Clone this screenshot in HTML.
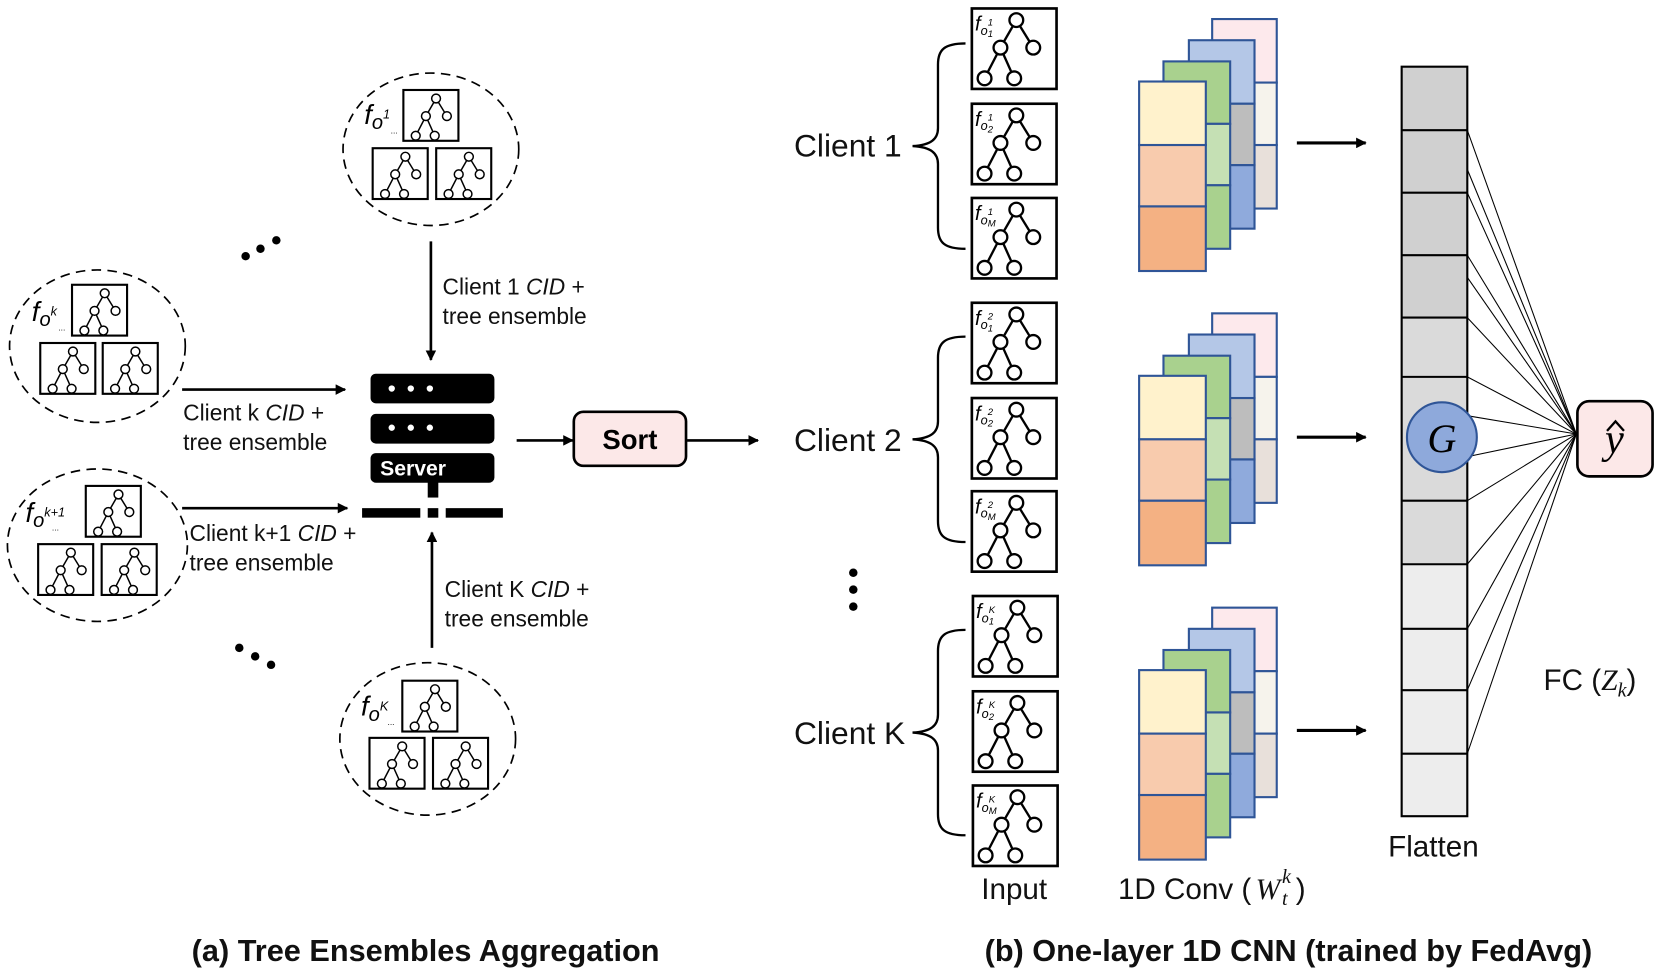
<!DOCTYPE html>
<html><head><meta charset="utf-8"><style>
html,body{margin:0;padding:0;background:#fff;}
svg{display:block;}
text{font-family:"Liberation Sans","Noto Sans CJK SC",sans-serif;}
.m{font-family:"Liberation Serif","DejaVu Serif",serif;font-style:italic;}
</style></head><body>
<svg width="1660" height="975" viewBox="0 0 1568 921" xmlns="http://www.w3.org/2000/svg">
<defs>
<g id="tree" fill="#fff" stroke="#000" stroke-width="2.2">
<line x1="42" y1="11" x2="27" y2="37"/><line x1="42" y1="11" x2="58" y2="37"/>
<line x1="27" y1="37" x2="12" y2="66"/><line x1="27" y1="37" x2="40" y2="66"/>
<circle cx="42" cy="11" r="6.5"/><circle cx="27" cy="37" r="6.5"/><circle cx="58" cy="37" r="6.5"/>
<circle cx="12" cy="66" r="6.5"/><circle cx="40" cy="66" r="6.5"/>
</g>
<g id="ibox"><rect x="0" y="0" width="80" height="76" fill="#fff" stroke="#000" stroke-width="2.5"/><use href="#tree" x="0" y="0"/></g>
<g id="sbox"><rect x="0" y="0" width="52" height="48" fill="#fff" stroke="#000" stroke-width="2"/><g transform="translate(4,1) scale(0.64,0.64)"><use href="#tree"/></g></g>
<g id="stack" stroke="#2F5597" stroke-width="2">
<rect x="1145" y="18" width="61" height="60" fill="#FDE9EC"/>
<rect x="1145" y="78" width="61" height="59" fill="#F6F3EC"/>
<rect x="1145" y="137" width="61" height="60" fill="#E8E0DA"/>
<rect x="1123" y="38" width="62" height="60" fill="#B4C7E7"/>
<rect x="1123" y="98" width="62" height="58" fill="#BDBDBD"/>
<rect x="1123" y="156" width="62" height="60" fill="#8FAADC"/>
<rect x="1099" y="58" width="63" height="59" fill="#A9D18E"/>
<rect x="1099" y="117" width="63" height="58" fill="#C5E0B4"/>
<rect x="1099" y="175" width="63" height="60" fill="#A9D18E"/>
<rect x="1076" y="77" width="63" height="60" fill="#FFF2CC"/>
<rect x="1076" y="137" width="63" height="58" fill="#F8CBAD"/>
<rect x="1076" y="195" width="63" height="61" fill="#F4B183"/>
</g>
<marker id="ah" markerWidth="10" markerHeight="10" refX="9" refY="5" orient="auto" markerUnits="userSpaceOnUse"><path d="M0,0 L10,5 L0,10 z" fill="#000"/></marker>
<path id="brace" d="M50,0 C30,0 24,6 24,20 L24,80 C24,90 18,96 0,97 C18,98 24,104 24,114 L24,174 C24,188 30,194 50,194" fill="none" stroke="#000" stroke-width="2.2"/>
</defs>

<g fill="none" stroke="#000" stroke-width="1.6" stroke-dasharray="9,6">
<ellipse cx="407" cy="141" rx="83" ry="72"/>
<ellipse cx="92" cy="327" rx="83" ry="72"/>
<ellipse cx="92" cy="515" rx="85" ry="72"/>
<ellipse cx="404" cy="698" rx="83" ry="72"/>
</g>
<use href="#sbox" x="381" y="85"/><use href="#sbox" x="352" y="140"/><use href="#sbox" x="412" y="140"/>
<use href="#sbox" x="68" y="269"/><use href="#sbox" x="38" y="324"/><use href="#sbox" x="97" y="324"/>
<use href="#sbox" x="81" y="459"/><use href="#sbox" x="36" y="514"/><use href="#sbox" x="96" y="514"/>
<use href="#sbox" x="380" y="643"/><use href="#sbox" x="349" y="697"/><use href="#sbox" x="409" y="697"/>
<g class="m" font-size="26">
<text x="344" y="117">f<tspan font-size="19" dy="5">o</tspan><tspan font-size="12" dy="-10">1</tspan></text>
<text x="30" y="303">f<tspan font-size="19" dy="5">o</tspan><tspan font-size="12" dy="-10">k</tspan></text>
<text x="24" y="493">f<tspan font-size="19" dy="5">o</tspan><tspan font-size="12" dy="-10">k+1</tspan></text>
<text x="341" y="676">f<tspan font-size="19" dy="5">o</tspan><tspan font-size="12" dy="-10">K</tspan></text>
</g>
<g font-size="8"><text x="369" y="126">...</text><text x="55" y="312">...</text><text x="49" y="501">...</text><text x="366" y="685">...</text></g>

<g fill="#000"><circle cx="232" cy="242" r="4"/><circle cx="246" cy="235" r="4"/><circle cx="261" cy="227" r="4"/>
<circle cx="226" cy="612" r="4"/><circle cx="241" cy="620" r="4"/><circle cx="256" cy="628" r="4"/></g>

<g stroke="#000" stroke-width="2.5" marker-end="url(#ah)">
<line x1="407" y1="228" x2="407" y2="340"/>
<line x1="172" y1="368" x2="326" y2="368"/>
<line x1="172" y1="480" x2="328" y2="480"/>
<line x1="408" y1="612" x2="408" y2="503"/>
<line x1="488" y1="416" x2="541" y2="416"/>
<line x1="649" y1="416" x2="716" y2="416"/>
</g>
<g font-size="21.5" fill="#111">
<text x="418" y="278">Client 1 <tspan font-style="italic">CID</tspan> +</text><text x="418" y="306">tree ensemble</text>
<text x="173" y="397">Client k <tspan font-style="italic">CID</tspan> +</text><text x="173" y="425">tree ensemble</text>
<text x="179" y="511">Client k+1 <tspan font-style="italic">CID</tspan> +</text><text x="179" y="539">tree ensemble</text>
<text x="420" y="564">Client K <tspan font-style="italic">CID</tspan> +</text><text x="420" y="592">tree ensemble</text>
</g>

<g fill="#000">
<rect x="350" y="353" width="117" height="28" rx="5"/>
<rect x="350" y="391" width="117" height="28" rx="5"/>
<rect x="350" y="428" width="117" height="28" rx="5"/>
<rect x="404" y="455" width="10" height="15"/>
<rect x="342" y="480" width="55" height="9"/><rect x="404" y="480" width="10" height="9"/><rect x="421" y="480" width="54" height="9"/>
</g>
<g fill="#fff"><circle cx="370" cy="367" r="3"/><circle cx="388" cy="367" r="3"/><circle cx="406" cy="367" r="3"/>
<circle cx="370" cy="404" r="3"/><circle cx="388" cy="404" r="3"/><circle cx="406" cy="404" r="3"/></g>
<text x="359" y="449" font-size="20" font-weight="bold" fill="#fff">Server</text>
<rect x="542" y="389" width="106" height="51" rx="9" fill="#FCE8E8" stroke="#000" stroke-width="2.5"/>
<text x="595" y="424" font-size="26" font-weight="bold" text-anchor="middle">Sort</text>

<g font-size="30" fill="#111">
<text x="750" y="148">Client 1</text><text x="750" y="426">Client 2</text><text x="750" y="703">Client K</text>
</g>
<use href="#brace" x="862" y="41"/><use href="#brace" x="862" y="318"/><use href="#brace" x="862" y="595"/>
<g fill="#000"><circle cx="806" cy="541" r="4"/><circle cx="806" cy="557" r="4"/><circle cx="806" cy="573" r="4"/></g>

<use href="#ibox" x="918" y="8"/><use href="#ibox" x="918" y="98"/><use href="#ibox" x="918" y="187"/>
<use href="#ibox" x="918" y="286"/><use href="#ibox" x="918" y="376"/><use href="#ibox" x="918" y="464"/>
<use href="#ibox" x="919" y="563"/><use href="#ibox" x="919" y="653"/><use href="#ibox" x="919" y="742"/>
<g class="m" font-size="19">
<text x="921" y="29">f<tspan font-size="12" dy="4">o</tspan><tspan font-size="9" dy="-9">1</tspan><tspan font-size="9" dx="-5" dy="11">1</tspan></text>
<text x="921" y="119">f<tspan font-size="12" dy="4">o</tspan><tspan font-size="9" dy="-9">1</tspan><tspan font-size="9" dx="-5" dy="11">2</tspan></text>
<text x="921" y="208">f<tspan font-size="12" dy="4">o</tspan><tspan font-size="9" dy="-9">1</tspan><tspan font-size="9" dx="-5" dy="11">M</tspan></text>
<text x="921" y="307">f<tspan font-size="12" dy="4">o</tspan><tspan font-size="9" dy="-9">2</tspan><tspan font-size="9" dx="-5" dy="11">1</tspan></text>
<text x="921" y="397">f<tspan font-size="12" dy="4">o</tspan><tspan font-size="9" dy="-9">2</tspan><tspan font-size="9" dx="-5" dy="11">2</tspan></text>
<text x="921" y="485">f<tspan font-size="12" dy="4">o</tspan><tspan font-size="9" dy="-9">2</tspan><tspan font-size="9" dx="-5" dy="11">M</tspan></text>
<text x="922" y="584">f<tspan font-size="12" dy="4">o</tspan><tspan font-size="9" dy="-9">K</tspan><tspan font-size="9" dx="-6" dy="11">1</tspan></text>
<text x="922" y="674">f<tspan font-size="12" dy="4">o</tspan><tspan font-size="9" dy="-9">K</tspan><tspan font-size="9" dx="-6" dy="11">2</tspan></text>
<text x="922" y="763">f<tspan font-size="12" dy="4">o</tspan><tspan font-size="9" dy="-9">K</tspan><tspan font-size="9" dx="-6" dy="11">M</tspan></text>
</g>

<use href="#stack"/><use href="#stack" y="278"/><use href="#stack" y="556"/>
<g stroke="#000" stroke-width="3" marker-end="url(#ah)">
<line x1="1225" y1="135" x2="1290" y2="135"/>
<line x1="1225" y1="413" x2="1290" y2="413"/>
<line x1="1225" y1="690" x2="1290" y2="690"/>
</g>

<rect x="1324" y="63" width="62" height="237" fill="#D0D0D0"/>
<rect x="1324" y="300" width="62" height="233" fill="#DADADA"/>
<rect x="1324" y="533" width="62" height="238" fill="#EDEDED"/>
<g stroke="#000" stroke-width="2">
<rect x="1324" y="63" width="62" height="708" fill="none"/>
<line x1="1324" y1="123" x2="1386" y2="123"/><line x1="1324" y1="182" x2="1386" y2="182"/>
<line x1="1324" y1="241" x2="1386" y2="241"/><line x1="1324" y1="300" x2="1386" y2="300"/>
<line x1="1324" y1="356" x2="1386" y2="356"/><line x1="1324" y1="473" x2="1386" y2="473"/>
<line x1="1324" y1="533" x2="1386" y2="533"/><line x1="1324" y1="594" x2="1386" y2="594"/>
<line x1="1324" y1="652" x2="1386" y2="652"/><line x1="1324" y1="712" x2="1386" y2="712"/>
</g>
<g stroke="#000" stroke-width="1">
<line x1="1386" y1="160" x2="1489" y2="410"/><line x1="1386" y1="262" x2="1489" y2="410"/>
<line x1="1386" y1="123" x2="1489" y2="410"/><line x1="1386" y1="182" x2="1489" y2="410"/>
<line x1="1386" y1="241" x2="1489" y2="410"/><line x1="1386" y1="300" x2="1489" y2="410"/>
<line x1="1386" y1="356" x2="1489" y2="410"/><line x1="1388" y1="393" x2="1489" y2="410"/>
<line x1="1388" y1="431" x2="1489" y2="410"/><line x1="1386" y1="473" x2="1489" y2="410"/>
<line x1="1386" y1="533" x2="1489" y2="410"/><line x1="1386" y1="594" x2="1489" y2="410"/>
<line x1="1386" y1="652" x2="1489" y2="410"/><line x1="1386" y1="712" x2="1489" y2="410"/>
</g>
<circle cx="1362" cy="413" r="33" fill="#8EA9DB" stroke="#2F5597" stroke-width="2"/>
<text x="1362" y="427" class="m" font-size="38" text-anchor="middle">G</text>
<rect x="1490" y="379" width="71" height="71" rx="11" fill="#FCE8E8" stroke="#000" stroke-width="2.5"/>
<text x="1525" y="428" class="m" font-size="40" text-anchor="middle">y</text>
<path d="M1518,407 L1526,398 L1534,407" fill="none" stroke="#000" stroke-width="2.2"/>

<g font-size="28" fill="#111">
<text x="1458" y="652">FC (<tspan class="m">Z</tspan><tspan class="m" font-size="19" dy="6">k</tspan><tspan dy="-6">)</tspan></text>
<text x="1354" y="809" text-anchor="middle">Flatten</text>
<text x="958" y="849" text-anchor="middle">Input</text>
<text x="1056" y="849">1D Conv (</text>
<text x="1186" y="849" class="m">W</text>
<text x="1211" y="855" class="m" font-size="19">t</text>
<text x="1211" y="834" class="m" font-size="19">k</text>
<text x="1224" y="849">)</text>
</g>
<g font-size="29" font-weight="bold" fill="#111" text-anchor="middle">
<text x="402" y="908">(a) Tree Ensembles Aggregation</text>
<text x="1217" y="908">(b) One-layer 1D CNN (trained by FedAvg)</text>
</g>
</svg>
</body></html>
